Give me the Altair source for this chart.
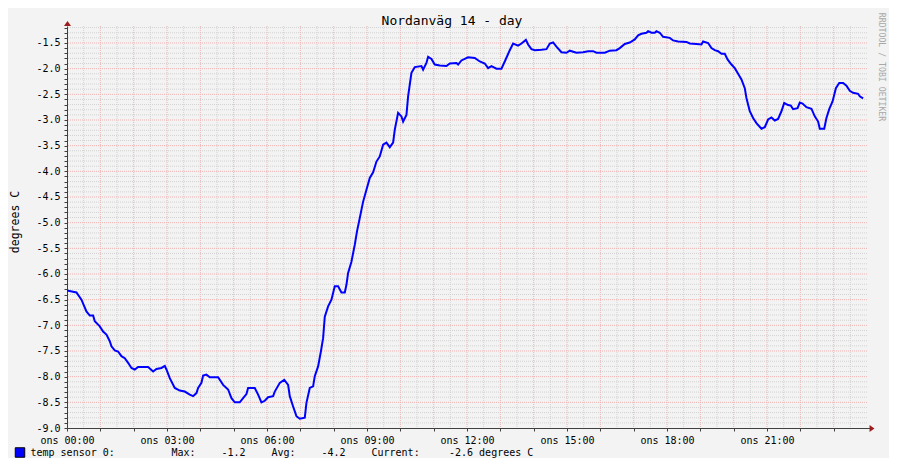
import altair as alt
import pandas as pd

# ---------------- texts ----------------
TITLE = "Nordanväg 14 - day"
Y_TITLE = "degrees C"
WATERMARK = "RRDTOOL / TOBI OETIKER"
X_TICK_LABELS = ["ons 00:00", "ons 03:00", "ons 06:00", "ons 09:00",
                 "ons 12:00", "ons 15:00", "ons 18:00", "ons 21:00"]
SERIES_NAME = "temp sensor 0:"
STAT_NAMES = ["Max:", "Avg:", "Current:"]
STAT_VALUES = ["-1.2", "-4.2", "-2.6 degrees C"]

# ---------------- data (minutes since 00:00, degrees C) ----------------
MINUTES = [0, 17, 26, 35, 41, 47, 50, 59, 65, 71, 77, 80, 86, 92, 98, 104, 110, 116, 122, 128,
           146, 155, 161, 170, 176, 179, 185, 194, 203, 212, 221, 227, 233, 236, 242, 245, 251, 257, 272, 281,
           290, 296, 302, 311, 317, 323, 326, 338, 344, 350, 356, 362, 371, 374, 383, 391, 398, 401, 407, 413,
           419, 428, 431, 437, 443, 446, 452, 457, 461, 464, 470, 476, 482, 488, 494, 500, 503, 506, 512, 518,
           522, 527, 533, 539, 545, 551, 557, 563, 569, 575, 581, 587, 590, 596, 602, 605, 611, 614, 620, 626,
           638, 641, 647, 650, 656, 662, 671, 683, 689, 701, 704, 710, 722, 734, 743, 752, 758, 764, 773, 782,
           788, 797, 803, 812, 818, 826, 830, 836, 842, 854, 863, 869, 875, 881, 890, 899, 905, 917, 929, 938,
           947, 953, 968, 977, 989, 995, 1004, 1013, 1022, 1028, 1034, 1043, 1046, 1052, 1058, 1061, 1067, 1073, 1085, 1091,
           1100, 1115, 1121, 1133, 1142, 1145, 1154, 1160, 1166, 1172, 1178, 1184, 1189, 1196, 1202, 1208, 1214, 1220, 1223, 1229,
           1235, 1241, 1250, 1256, 1262, 1268, 1274, 1280, 1286, 1291, 1298, 1303, 1307, 1315, 1319, 1324, 1331, 1340, 1346, 1352,
           1355, 1363, 1367, 1372, 1378, 1384, 1390, 1397, 1403, 1409, 1415, 1424, 1427, 1433]
TEMPS = [-6.32, -6.36, -6.50, -6.73, -6.81, -6.81, -6.92, -7.02, -7.12, -7.18, -7.31, -7.41, -7.49, -7.51, -7.60, -7.64, -7.73, -7.83, -7.86, -7.81,
         -7.81, -7.90, -7.85, -7.83, -7.79, -7.86, -8.03, -8.22, -8.27, -8.29, -8.35, -8.38, -8.32, -8.22, -8.12, -7.98, -7.96, -8.01, -8.01, -8.16,
         -8.25, -8.42, -8.50, -8.50, -8.42, -8.34, -8.22, -8.22, -8.35, -8.50, -8.47, -8.40, -8.38, -8.29, -8.12, -8.06, -8.16, -8.38, -8.58, -8.77,
         -8.82, -8.80, -8.51, -8.22, -8.19, -7.99, -7.80, -7.51, -7.25, -6.83, -6.63, -6.50, -6.24, -6.24, -6.36, -6.36, -6.21, -5.98, -5.76, -5.43,
         -5.17, -4.91, -4.59, -4.36, -4.13, -4.02, -3.81, -3.71, -3.48, -3.44, -3.53, -3.44, -3.19, -2.86, -2.93, -3.03, -2.90, -2.54, -2.08, -1.97,
         -1.95, -2.02, -1.89, -1.77, -1.81, -1.92, -1.94, -1.95, -1.90, -1.89, -1.92, -1.84, -1.78, -1.79, -1.86, -1.90, -1.99, -1.95, -2.00, -2.00,
         -1.86, -1.64, -1.51, -1.55, -1.51, -1.44, -1.53, -1.62, -1.64, -1.63, -1.62, -1.51, -1.49, -1.57, -1.68, -1.69, -1.65, -1.69, -1.68, -1.66,
         -1.66, -1.69, -1.69, -1.65, -1.64, -1.60, -1.52, -1.49, -1.43, -1.35, -1.32, -1.30, -1.27, -1.30, -1.30, -1.27, -1.30, -1.38, -1.40, -1.45,
         -1.47, -1.48, -1.51, -1.52, -1.53, -1.47, -1.50, -1.60, -1.64, -1.66, -1.71, -1.71, -1.82, -1.92, -1.99, -2.10, -2.21, -2.38, -2.57, -2.83,
         -2.96, -3.06, -3.17, -3.14, -2.99, -2.95, -3.01, -2.98, -2.83, -2.67, -2.71, -2.72, -2.79, -2.77, -2.66, -2.68, -2.75, -2.78, -2.93, -3.03,
         -3.17, -3.17, -2.96, -2.79, -2.64, -2.38, -2.28, -2.28, -2.33, -2.43, -2.47, -2.49, -2.54, -2.58]

Y_MIN, Y_MAX = -9.0, -1.169
X_MAX = 1440

# ---------------- style ----------------
FONT = "DejaVu Sans Mono"
BG = "#F3F3F3"
AXIS_COLOR = "#404040"
ARROW_COLOR = "#9B1C1C"
GRID_MINOR = "#D2D2D2"
GRID_MAJOR = "#F0B2B2"
LINE_COLOR = "#0000FF"
W, H = 800, 402

df = pd.DataFrame({"m": MINUTES, "t": TEMPS})

xs = alt.Scale(domain=[0, X_MAX], nice=False)
ys = alt.Scale(domain=[Y_MIN, Y_MAX], nice=False, zero=False)

label_js = "[" + ",".join("'%s'" % s for s in X_TICK_LABELS) + "]"
x_axis = alt.Axis(
    values=list(range(0, X_MAX, 60)),
    labelExpr="datum.value % 180 == 0 ? " + label_js + "[datum.value / 180] : ''",
    title=None, grid=False, domainColor=AXIS_COLOR, tickColor=AXIS_COLOR, tickSize=3,
    labelFont=FONT, labelFontSize=10, labelColor="#000000", labelPadding=4,
    labelFlush=False, labelOverlap=False,
)
y_ticks = [round(-9.0 + 0.1 * i, 1) for i in range(79)]
y_axis = alt.Axis(
    values=y_ticks,
    labelExpr="abs(datum.value*2 - round(datum.value*2)) < 0.001 ? "
              "(datum.value < 0 ? '-' : '') + format(abs(datum.value), '.1f') : ''",
    title=None, grid=False, domainColor=AXIS_COLOR, tickColor=AXIS_COLOR, tickSize=3,
    labelFont=FONT, labelFontSize=10, labelColor="#000000", labelPadding=4, labelOverlap=False,
)

minor_x = [m for m in range(30, X_MAX, 60)]
major_x = [m for m in range(60, X_MAX, 60)]
minor_y = [v for v in y_ticks[1:] if abs(v * 2 - round(v * 2)) > 1e-6]
major_y = [v for v in y_ticks[1:] if abs(v * 2 - round(v * 2)) <= 1e-6]

def vgrid(vals, color):
    return alt.Chart(pd.DataFrame({"v": vals})).mark_rule(
        color=color, strokeDash=[1, 1], strokeWidth=1
    ).encode(x=alt.X("v:Q", scale=xs, axis=x_axis))

def hgrid(vals, color):
    return alt.Chart(pd.DataFrame({"v": vals})).mark_rule(
        color=color, strokeDash=[1, 1], strokeWidth=1
    ).encode(y=alt.Y("v:Q", scale=ys, axis=y_axis))

line = alt.Chart(df).mark_line(color=LINE_COLOR, strokeWidth=2, clip=True).encode(
    x=alt.X("m:Q", scale=xs, axis=x_axis),
    y=alt.Y("t:Q", scale=ys, axis=y_axis),
)

one = pd.DataFrame({"a": [0]})

x_ext = alt.Chart(one).mark_rule(color=AXIS_COLOR, strokeWidth=1).encode(
    x=alt.value(W), x2=alt.value(W + 3), y=alt.value(H + 0.5))
arrow_up = alt.Chart(one).mark_point(
    shape="M-1,0.7L1,0.7L0,-0.7Z", size=49, filled=True, color=ARROW_COLOR, opacity=1
).encode(x=alt.value(0.5), y=alt.value(-2.5))
arrow_right = alt.Chart(one).mark_point(
    shape="M-0.7,-1L0.7,0L-0.7,1Z", size=49, filled=True, color=ARROW_COLOR, opacity=1
).encode(x=alt.value(W + 5), y=alt.value(H + 0.5))

def text_layer(txt, x, y, size=10, color="#000000", align="left", baseline="alphabetic", angle=0):
    return alt.Chart(pd.DataFrame({"t": [txt]})).mark_text(
        font=FONT, fontSize=size, color=color, align=align, baseline=baseline, angle=angle
    ).encode(text="t:N", x=alt.value(x), y=alt.value(y))

title = text_layer(TITLE, 385, -1, size=13, align="center")
ytitle = text_layer(Y_TITLE, -51.5, 196, size=11.5, align="center", baseline="middle", angle=270)
water = text_layer(WATERMARK, 813.5, 41, size=8.2, color="#A8A8A8", align="center",
                   baseline="middle", angle=90)

legend_box = alt.Chart(one).mark_square(
    size=90, color=LINE_COLOR, stroke="#000000", strokeWidth=1, opacity=1
).encode(x=alt.value(-47), y=alt.value(426.5))

LEG_Y = 430
legend_texts = [text_layer(SERIES_NAME, -36.5, LEG_Y)]
STAT_NAME_X = [104.5, 204.5, 304.5]
STAT_VAL_X = [154.5, 254.5, 382]
for n, xv in zip(STAT_NAMES, STAT_NAME_X):
    legend_texts.append(text_layer(n, xv, LEG_Y))
for v, xv in zip(STAT_VALUES, STAT_VAL_X):
    legend_texts.append(text_layer(v, xv, LEG_Y))

chart = alt.layer(
    vgrid(minor_x, GRID_MINOR), hgrid(minor_y, GRID_MINOR),
    vgrid(major_x, GRID_MAJOR), hgrid(major_y, GRID_MAJOR),
    line, x_ext, arrow_up, arrow_right,
    title, ytitle, water, legend_box, *legend_texts,
).properties(
    width=W, height=H,
    padding={"left": 59, "top": 18, "right": 22, "bottom": 30},
    autosize=alt.AutoSizeParams(type="none"),
    background=BG,
).configure_view(strokeWidth=0)

chart.save("out.html", embed_options={"renderer": "svg", "actions": False})
